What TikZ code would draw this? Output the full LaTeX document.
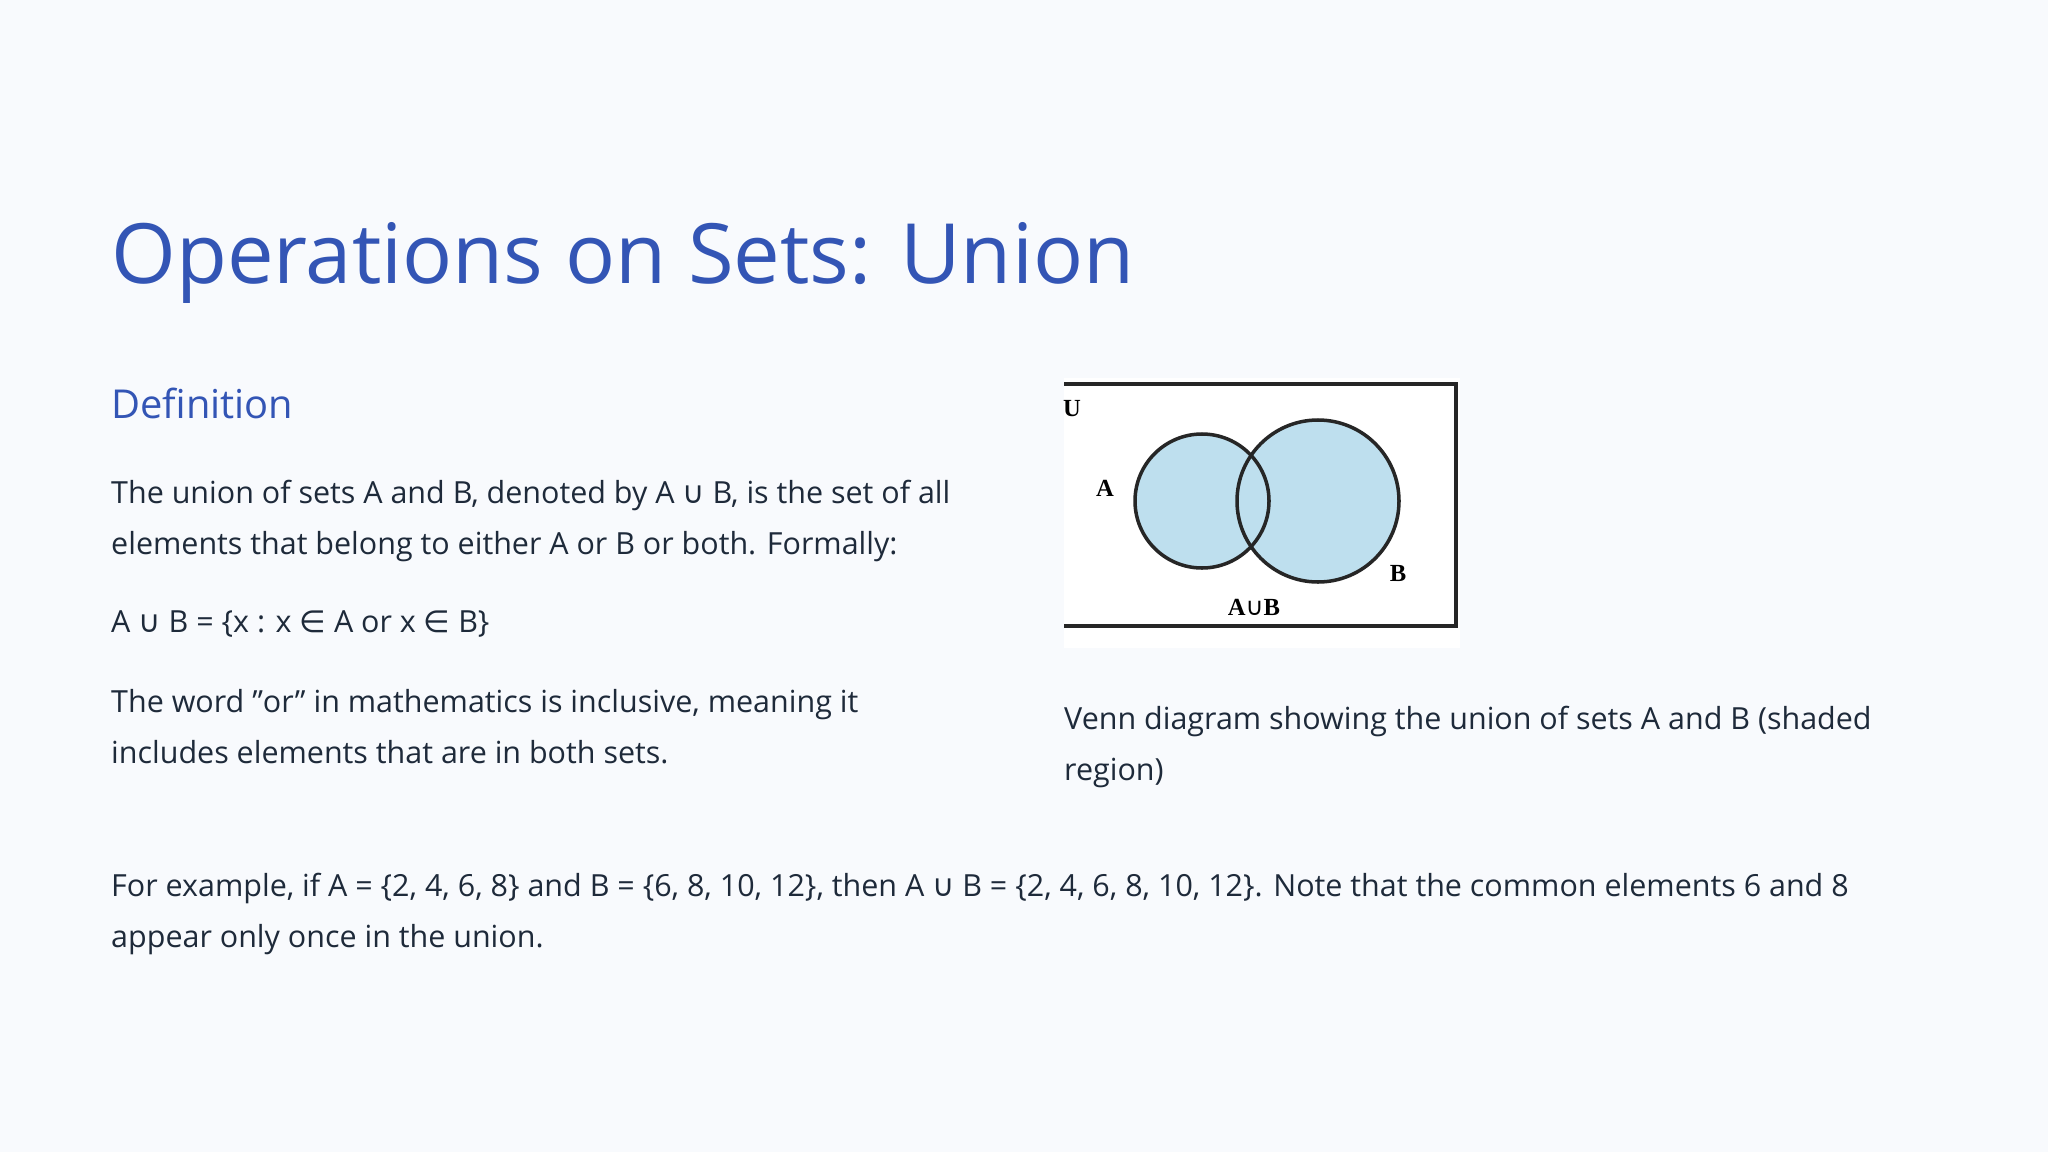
\documentclass[tikz,border=0pt]{standalone}
\usepackage{fontspec}
\setmainfont{Open Sans}
\newfontfamily\symf{DejaVu Sans}
\newfontfamily\serf{Liberation Serif}
\definecolor{bg}{HTML}{F8FAFD}
\definecolor{ttl}{HTML}{3355B5}
\definecolor{txt}{HTML}{1E2A3A}
\definecolor{venn}{HTML}{BEDFEE}
\newcommand{\un}{{\symf ∪}}
\newcommand{\el}{{\symf ∈}}
\begin{document}
\begin{tikzpicture}[x=0.03cm,y=-0.03cm,
  body/.style={anchor=base west,inner sep=0,text=txt,font=\fontsize{26}{43}\selectfont},
  vl/.style={font=\serf\bfseries\fontsize{21}{21}\selectfont,text=black}]
\fill[bg] (0,0) rectangle (2048,1152);
\useasboundingbox (0,0) rectangle (2048,1152);
\node[anchor=base west,inner sep=0,text=ttl,font=\fontsize{71}{80}\selectfont] (title) at (111,283) {Operations on Sets: Union};
\node[anchor=base west,inner sep=0,text=ttl,font=\fontsize{34}{40}\selectfont] (def) at (111,418) {Definition};
\node[body] (l1) at (111,503) {The union of sets A and B, denoted by A \un\ B, is the set of all};
\node[body] (l2) at (111,554) {elements that belong to either A or B or both. Formally:};
\node[body] (l3) at (111,632) {A \un\ B = \{x : x \el\ A or x \el\ B\}};
\node[body] (l4) at (111,712) {The word "or" in mathematics is inclusive, meaning it};
\node[body] (l5) at (111,763) {includes elements that are in both sets.};
\node[body] (c1) at (1064,729) {Venn diagram showing the union of sets A and B (shaded};
\node[body] (c2) at (1064,780) {region)};
\node[body] (e1) at (111,896) {For example, if A = \{2, 4, 6, 8\} and B = \{6, 8, 10, 12\}, then A \un\ B = \{2, 4, 6, 8, 10, 12\}. Note that the common elements 6 and 8};
\node[body] (e2) at (111,947) {appear only once in the union.};
% Venn picture
\fill[white] (1064,378) rectangle (1460,648);
\fill[venn] (1202,501) circle (67);
\fill[venn] (1318,501) circle (81);
\draw[line width=3pt,black!85] (1202,501) circle (67);
\draw[line width=3pt,black!85] (1318,501) circle (81);
\draw[line width=3pt,black!85] (1064,384) -- (1456,384) -- (1456,626) -- (1064,626);
\node[vl] (U) at (1072,409) {U};
\node[vl] (A) at (1105,488) {A};
\node[vl] (B) at (1398,573) {B};
\node[vl] (AB) at (1254,607) {A{\symf\mdseries∪}B};
\end{tikzpicture}
\end{document}
